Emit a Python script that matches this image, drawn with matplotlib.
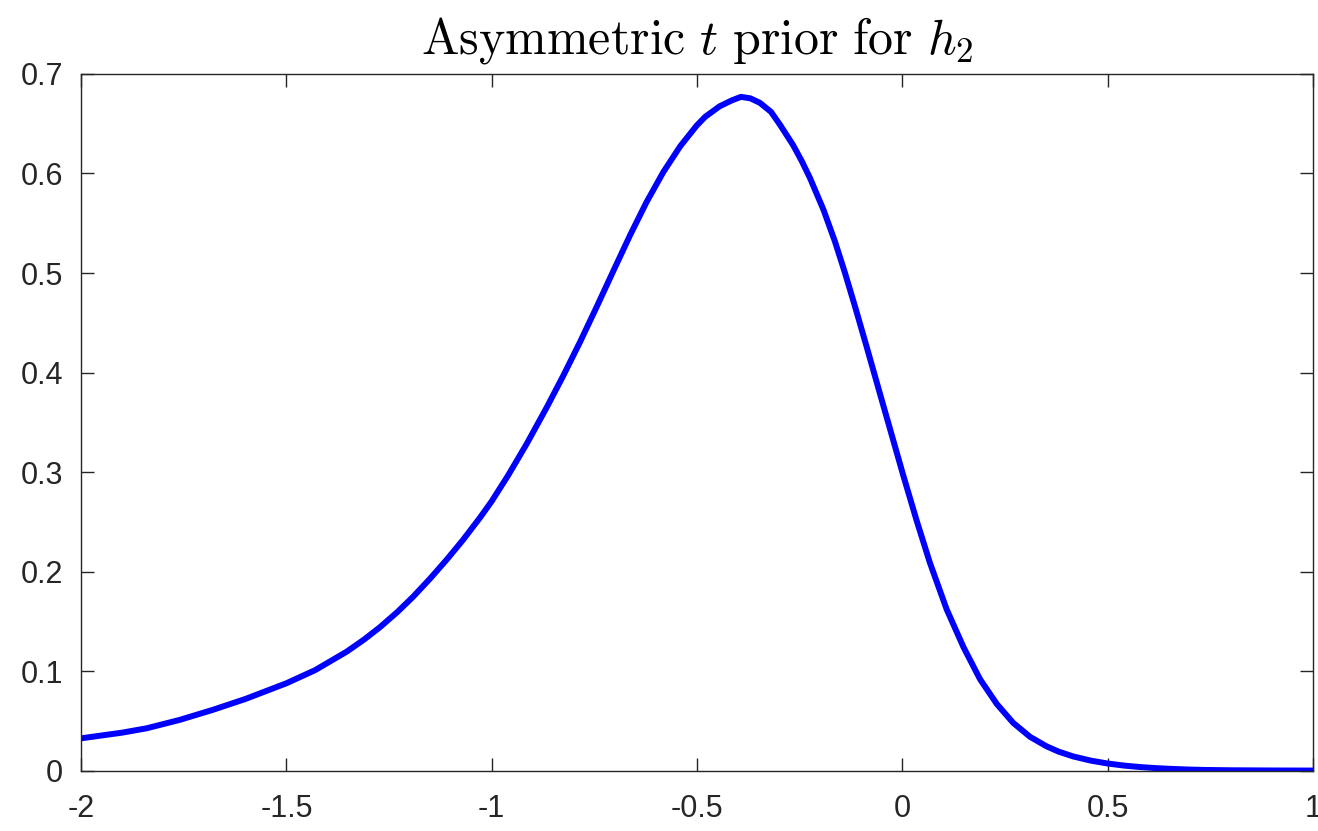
import matplotlib
matplotlib.use("Agg")
import matplotlib.pyplot as plt

# density of the asymmetric t prior
h2 = [-2.0, -1.9, -1.84, -1.76, -1.68, -1.6, -1.5, -1.43, -1.353, -1.31,
      -1.272, -1.23, -1.191, -1.15, -1.109, -1.07, -1.028, -1.0, -0.96,
      -0.915, -0.866, -0.826, -0.785, -0.744, -0.704, -0.663, -0.623, -0.582,
      -0.541, -0.501, -0.48, -0.445, -0.415, -0.393, -0.37, -0.347, -0.32,
      -0.298, -0.266, -0.245, -0.225, -0.192, -0.164, -0.14, -0.115, -0.087,
      -0.054, -0.026, 0.002, 0.035, 0.067, 0.108, 0.149, 0.189, 0.23, 0.27,
      0.311, 0.351, 0.38, 0.416, 0.46, 0.5, 0.54, 0.58, 0.62, 0.66, 0.7,
      0.74, 0.8, 0.9, 1.0]
density = [0.0325, 0.0382, 0.0426, 0.051, 0.061, 0.072, 0.0878, 0.101, 0.1196,
           0.132, 0.1442, 0.1593, 0.1749, 0.193, 0.2123, 0.2318, 0.2545, 0.2707,
           0.2967, 0.3282, 0.365, 0.3966, 0.4306, 0.4663, 0.5019, 0.538, 0.5712,
           0.6015, 0.6273, 0.6481, 0.657, 0.6675, 0.6735, 0.677, 0.6755, 0.671,
           0.662, 0.649, 0.6285, 0.6125, 0.5955, 0.5635, 0.5315, 0.5005, 0.466,
           0.426, 0.378, 0.3375, 0.297, 0.251, 0.209, 0.162, 0.124, 0.092,
           0.067, 0.048, 0.034, 0.0245, 0.0192, 0.0143, 0.0100, 0.0072, 0.0051,
           0.0036, 0.0025, 0.0017, 0.0011, 0.0007, 0.0004, 0.0002, 0.0001]

x_ticks = [-2, -1.5, -1, -0.5, 0, 0.5, 1]
x_labels = ["-2", "-1.5", "-1", "-0.5", "0", "0.5", "1"]
y_ticks = [0, 0.1, 0.2, 0.3, 0.4, 0.5, 0.6, 0.7]
y_labels = ["0", "0.1", "0.2", "0.3", "0.4", "0.5", "0.6", "0.7"]

plt.rcParams["mathtext.fontset"] = "cm"
plt.rcParams["font.family"] = ["Liberation Sans", "DejaVu Sans"]

dark = "#262626"

fig = plt.figure(figsize=(13.18, 8.31), dpi=100)
ax = fig.add_axes([0.0615, 0.0726, 0.9347, 0.8384])

ax.plot(h2, density, color="#0000ff", linewidth=4.3,
        solid_joinstyle="round", solid_capstyle="butt")

ax.set_xlim(-2, 1)
ax.set_ylim(0, 0.7)
ax.set_xticks(x_ticks)
ax.set_xticklabels(x_labels)
ax.set_yticks(y_ticks)
ax.set_yticklabels(y_labels)

ax.tick_params(direction="in", length=9.4, width=1.0, color=dark,
               labelcolor=dark, labelsize=22, top=True, right=True)
ax.tick_params(axis="x", pad=17)
ax.tick_params(axis="y", pad=13)
for s in ax.spines.values():
    s.set_color(dark)
    s.set_linewidth(1.0)

ax.set_title(r"$\mathrm{Asymmetric}\ t\ \mathrm{prior\ for}\ h_2$",
             fontsize=36, pad=15, color="black")

fig.savefig("out.png", dpi=100)
